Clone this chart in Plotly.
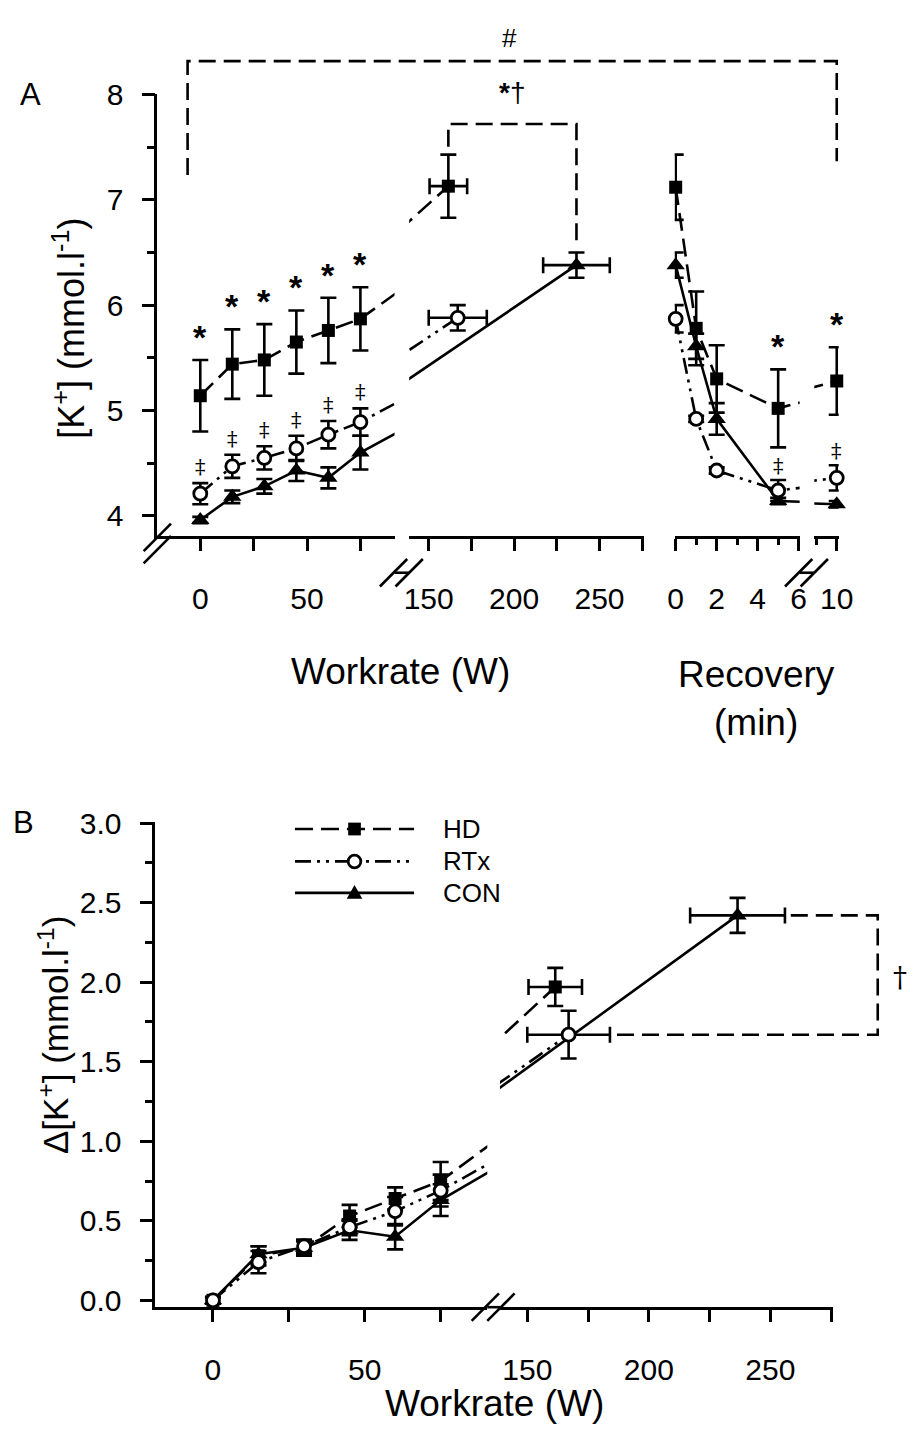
import plotly.graph_objects as go

W, H = 923, 1436
FONT = "Liberation Sans, Arial, Helvetica, sans-serif"
SERIF = "DejaVu Serif, Liberation Serif, Times New Roman, serif"

# ----------------------------- data -----------------------------
groups = ["HD", "RTx", "CON"]
workrate = [0, 15, 30, 45, 60, 75]            # W
recovery_min = [0, 1, 2, 5, 10]               # min

# Panel A : plasma [K+] (mmol/l)
hd_k = [5.14, 5.44, 5.48, 5.65, 5.76, 5.87]
hd_k_sd = [0.34, 0.33, 0.34, 0.30, 0.31, 0.30]
rtx_k = [4.21, 4.47, 4.55, 4.64, 4.77, 4.89]
rtx_k_sd = [0.10, 0.11, 0.11, 0.12, 0.13, 0.13]
con_k = [3.96, 4.18, 4.28, 4.43, 4.36, 4.60]
con_k_sd = [0.03, 0.06, 0.07, 0.10, 0.10, 0.16]

peak_workrate = [161.5, 167.0, 236.5]         # HD, RTx, CON
peak_workrate_sd = [11.0, 17.0, 19.5]
peak_k = [7.13, 5.88, 6.38]
peak_k_sd = [0.30, 0.12, 0.12]

hd_rec = [7.12, 5.78, 5.30, 5.02, 5.28]
hd_rec_sd = [0.31, 0.35, 0.32, 0.37, 0.32]
rtx_rec = [5.87, 4.92, 4.43, 4.24, 4.36]
rtx_rec_sd = [0.13, 0.03, 0.03, 0.10, 0.12]
con_rec = [6.38, 5.61, 4.92, 4.14, 4.11]
con_rec_sd = [0.12, 0.12, 0.15, 0.03, 0.03]

# Panel B : delta [K+] (mmol/l)
hd_dk = [0.0, 0.28, 0.33, 0.53, 0.64, 0.75]
hd_dk_sd = [0.02, 0.06, 0.05, 0.07, 0.07, 0.12]
rtx_dk = [0.0, 0.24, 0.34, 0.46, 0.56, 0.69]
rtx_dk_sd = [0.02, 0.07, 0.04, 0.05, 0.09, 0.10]
con_dk = [0.0, 0.29, 0.33, 0.44, 0.40, 0.63]
con_dk_sd = [0.02, 0.05, 0.04, 0.06, 0.08, 0.10]
peak_dk = [1.97, 1.67, 2.42]
peak_dk_sd = [0.12, 0.15, 0.11]

# significance symbols
hd_star_workrate = [0, 15, 30, 45, 60, 75]
rtx_ddag_workrate = [0, 15, 30, 45, 60, 75]
hd_star_recovery = [5, 10]
rtx_ddag_recovery = [5, 10]

SUB = {
    "HD": (hd_k, hd_k_sd, hd_rec, hd_rec_sd, hd_dk, hd_dk_sd),
    "RTx": (rtx_k, rtx_k_sd, rtx_rec, rtx_rec_sd, rtx_dk, rtx_dk_sd),
    "CON": (con_k, con_k_sd, con_rec, con_rec_sd, con_dk, con_dk_sd),
}

# ----------------------------- styles -----------------------------
LW = 2.6
STY = {
    "HD": dict(symbol="square", size=13, fill="black", lw=0, dash="18px,8px"),
    "RTx": dict(symbol="circle", size=13, fill="white", lw=2.8,
                dash="16px,6px,3px,6px,3px,6px"),
    "CON": dict(symbol="triangle-up", size=16, fill="black", lw=0, dash="solid"),
}


def px2x(p):
    return p / W


def py2y(p):
    return 1 - p / H


class Lin:
    """linear pixel mapping for one axis segment"""

    def __init__(self, p0, p1, vref, pref, scale, vertical=False):
        self.p0, self.p1, self.vref, self.pref, self.s = p0, p1, vref, pref, scale
        self.vert = vertical

    def v2p(self, v):
        return self.pref - (v - self.vref) * self.s if self.vert else self.pref + (v - self.vref) * self.s

    def p2v(self, p):
        return self.vref + (self.pref - p) / self.s if self.vert else self.vref + (p - self.pref) / self.s

    def rng(self):
        return [self.p2v(self.p0), self.p2v(self.p1)]

    def dom(self):
        if self.vert:
            return [py2y(self.p0), py2y(self.p1)]
        return [px2x(self.p0), px2x(self.p1)]


AXA = 567     # panel A x-axis line (px)
AXB = 1315    # panel B x-axis line (px)
xA1 = Lin(154, 397, 0, 198, 2.187)
xA2 = Lin(412, 653, 150, 432, 1.75)
xA3 = Lin(684, 812, 0, 685, 21.0)
xA4 = Lin(827, 852, 10, 850, 21.0)
yA1 = Lin(530, 79, 8, 80, 107.25, vertical=True)
yA2 = Lin(AXA, 530, 0, AXA - 0.5, 107.25, vertical=True)
xB1 = Lin(152, 492, 0, 211, 3.11)
xB2 = Lin(505, 846, 150, 533, 2.49)
yB = Lin(AXB, 821, 3, 822, 162.0, vertical=True)

fig = go.Figure()


def add_lines(xs, ys, g, pairs):
    for xa, ya in pairs:
        fig.add_trace(go.Scatter(
            x=xs, y=ys, mode="lines", xaxis=xa, yaxis=ya, hoverinfo="skip",
            line=dict(color="black", width=LW, dash=STY[g]["dash"])))


def add_markers(xs, ys, ey, g, xa, ya, ex=None):
    s = STY[g]
    kw = {}
    if ex is not None:
        kw["error_x"] = dict(type="data", array=ex, visible=True, color="black",
                             thickness=LW, width=8)
    fig.add_trace(go.Scatter(
        x=xs, y=ys, mode="markers", xaxis=xa, yaxis=ya, cliponaxis=False,
        marker=dict(symbol=s["symbol"], size=s["size"], color=s["fill"],
                    line=dict(color="black", width=s["lw"])),
        error_y=dict(type="data", array=ey, visible=True, color="black",
                     thickness=LW, width=8), **kw))


# lines first
for i, g in enumerate(groups):
    k, ksd, rec, recsd, dk, dksd = SUB[g]
    add_lines(workrate + [peak_workrate[i]], k + [peak_k[i]], g, [("x", "y"), ("x2", "y")])
    add_lines(recovery_min, rec, g, [("x3", "y"), ("x4", "y")])
    add_lines(workrate + [peak_workrate[i]], dk + [peak_dk[i]], g, [("x5", "y3"), ("x6", "y3")])

# markers
for g in ["HD", "CON", "RTx"]:
    j = groups.index(g)
    k, ksd, rec, recsd, dk, dksd = SUB[g]
    add_markers(workrate, k, ksd, g, "x", "y")
    add_markers([peak_workrate[j]], [peak_k[j]], [peak_k_sd[j]], g, "x2", "y",
                ex=[peak_workrate_sd[j]])
    add_markers(recovery_min[:4], rec[:4], recsd[:4], g, "x3", "y")
    add_markers(recovery_min[4:], rec[4:], recsd[4:], g, "x4", "y")
    add_markers(workrate, dk, dksd, g, "x5", "y3")
    add_markers([peak_workrate[j]], [peak_dk[j]], [peak_dk_sd[j]], g, "x6", "y3",
                ex=[peak_workrate_sd[j]])

# ----------------------------- axes -----------------------------
common = dict(showline=True, linecolor="black", linewidth=LW, ticks="outside",
              ticklen=12, tickwidth=LW, tickcolor="black", showgrid=False,
              zeroline=False, fixedrange=True, tickmode="array",
              tickfont=dict(family=FONT, size=30, color="black"))
xcommon = dict(common, ticklabelstandoff=22)
ycommon = dict(common, ticklen=13, ticklabelstandoff=12)


def minor(vals, ln=7):
    return dict(tickmode="array", tickvals=vals, ticks="outside", ticklen=ln,
                tickwidth=LW, tickcolor="black", showgrid=False)


def fmt1(v):
    return f"{v:.1f}"


fig.update_layout(
    xaxis=dict(xcommon, domain=xA1.dom(), range=xA1.rng(), anchor="y2",
               tickvals=[0, 50], ticktext=["0", "50"], minor=minor([25, 75], 12)),
    xaxis2=dict(xcommon, domain=xA2.dom(), range=xA2.rng(), anchor="y2",
                tickvals=[150, 200, 250], ticktext=["150", "200", "250"],
                minor=minor([175, 225, 275], 12)),
    xaxis3=dict(xcommon, domain=xA3.dom(), range=xA3.rng(), anchor="y2",
                tickvals=[0, 2, 4, 6], ticktext=["0", "2", "4", "6"],
                minor=minor([1, 3, 5], 6)),
    xaxis4=dict(xcommon, domain=xA4.dom(), range=xA4.rng(), anchor="y2",
                tickvals=[10], ticktext=["10"], minor=minor([9], 6)),
    yaxis=dict(ycommon, domain=yA1.dom(), range=yA1.rng(), anchor="x",
               tickvals=[4, 5, 6, 7, 8], ticktext=["4", "5", "6", "7", "8"],
               minor=minor([4.5, 5.5, 6.5, 7.5], 8)),
    yaxis2=dict(ycommon, domain=yA2.dom(), range=yA2.rng(), anchor="x",
                tickvals=[0], ticktext=["0"]),
    xaxis5=dict(xcommon, domain=xB1.dom(), range=xB1.rng(), anchor="y3",
                tickvals=[0, 50], ticktext=["0", "50"], minor=minor([25, 75], 12)),
    xaxis6=dict(xcommon, domain=xB2.dom(), range=xB2.rng(), anchor="y3",
                tickvals=[150, 200, 250], ticktext=["150", "200", "250"],
                minor=minor([175, 225, 275], 12)),
    yaxis3=dict(ycommon, domain=yB.dom(), range=yB.rng(), anchor="x5",
                tickvals=[0, 0.5, 1.0, 1.5, 2.0, 2.5, 3.0],
                ticktext=[fmt1(v) for v in [0, 0.5, 1.0, 1.5, 2.0, 2.5, 3.0]],
                minor=minor([0.25, 0.75, 1.25, 1.75, 2.25, 2.75], 8)),
)

shapes = []
annotations = []


def seg(x0, y0, x1, y1, dash="solid", w=LW):
    shapes.append(dict(type="line", xref="paper", yref="paper",
                       x0=px2x(x0), y0=py2y(y0), x1=px2x(x1), y1=py2y(y1),
                       line=dict(color="black", width=w, dash=dash)))


def poly(pts, dash="17px,8px"):
    path = "M " + " L ".join(f"{px2x(a):.5f},{py2y(b):.5f}" for a, b in pts)
    shapes.append(dict(type="path", xref="paper", yref="paper", path=path,
                       line=dict(color="black", width=LW, dash=dash)))


def text(x, y, t, size=29, family=FONT, xanchor="center", yanchor="middle", angle=0):
    annotations.append(dict(x=px2x(x), y=py2y(y), xref="paper", yref="paper", text=t,
                            showarrow=False, xanchor=xanchor, yanchor=yanchor,
                            textangle=angle,
                            font=dict(family=family, size=size, color="black")))


def breakmark(cx, cy, d=14):
    seg(cx - d, cy + d, cx + d, cy - d)


# axis lines across the breaks
seg(xA1.p1, AXA, xA2.p0, AXA)
seg(xA3.p1, AXA, xA4.p0, AXA)
seg(xB1.p1, AXB, xB2.p0, AXB)
# break marks
for cy in (531, 543.5):
    breakmark(154, cy)
for cx in (396, 412):
    breakmark(cx, AXA)
for cx in (811, 827):
    breakmark(cx, AXA)
for cx in (490, 506):
    breakmark(cx, AXB)

# significance brackets, panel A
poly([(185, 162), (185, 46), (xA4.v2p(10), 46), (xA4.v2p(10), 148)])
top = yA1.v2p(7.72)
poly([(xA2.v2p(peak_workrate[0]), yA1.v2p(peak_k[0] + peak_k_sd[0]) - 8),
      (xA2.v2p(peak_workrate[0]), top),
      (xA2.v2p(peak_workrate[2]), top),
      (xA2.v2p(peak_workrate[2]), yA1.v2p(peak_k[2] + peak_k_sd[2]) - 8)])
text(515, 22, "#", size=26)
text(517, 78, "<b>*</b>†", size=28)

# significance bracket, panel B
rx = 892
poly([(xB2.v2p(peak_workrate[2] + peak_workrate_sd[2]) + 6, yB.v2p(peak_dk[2])),
      (rx, yB.v2p(peak_dk[2])), (rx, yB.v2p(peak_dk[1])),
      (xB2.v2p(peak_workrate[1] + peak_workrate_sd[1]) + 5, yB.v2p(peak_dk[1]))])
text(915, 979, "†", size=28, family=SERIF)

STAR = dict(family=FONT, size=34, color="black")
DDAG = dict(family=SERIF, size=21, color="black")

# asterisks / double daggers
for w in hd_star_workrate:
    i = workrate.index(w)
    annotations.append(dict(x=w, y=hd_k[i] + hd_k_sd[i], xref="x", yref="y", text="<b>*</b>",
                            showarrow=False, yanchor="bottom", yshift=2, font=STAR))
for w in rtx_ddag_workrate:
    i = workrate.index(w)
    annotations.append(dict(x=w, y=rtx_k[i] + rtx_k_sd[i], xref="x", yref="y", text="‡",
                            showarrow=False, yanchor="bottom", yshift=2, font=DDAG))
for t in hd_star_recovery:
    i = recovery_min.index(t)
    annotations.append(dict(x=t, y=hd_rec[i] + hd_rec_sd[i], xref="x3" if t < 8 else "x4",
                            yref="y", text="<b>*</b>", showarrow=False, yanchor="bottom",
                            yshift=2, font=STAR))
for t in rtx_ddag_recovery:
    i = recovery_min.index(t)
    annotations.append(dict(x=t, y=rtx_rec[i] + rtx_rec_sd[i], xref="x3" if t < 8 else "x4",
                            yref="y", text="‡", showarrow=False, yanchor="bottom", yshift=0,
                            font=DDAG))

# panel labels and titles
text(24, 80, "A", size=31)
text(17, 821, "B", size=31)
text(64, 318, "[K<sup>+</sup>] (mmol.l<sup>-1</sup>)", size=36, angle=-90)
text(48, 1038, "Δ[K<sup>+</sup>] (mmol.l<sup>-1</sup>)", size=35, angle=-90)
text(403, 668, "Workrate (W)", size=37)
text(768, 695, "Recovery<br>(min)", size=37)
text(499, 1413, "Workrate (W)", size=37)

# legend (panel B)
for g, ly in zip(groups, [828, 861, 893]):
    seg(295, ly, 417, ly, dash=STY[g]["dash"])
    cx = 356
    if g == "HD":
        shapes.append(dict(type="rect", xref="paper", yref="paper",
                           x0=px2x(cx - 6.5), x1=px2x(cx + 6.5), y0=py2y(ly + 6.5), y1=py2y(ly - 6.5),
                           fillcolor="black", line=dict(width=0)))
    elif g == "RTx":
        shapes.append(dict(type="circle", xref="paper", yref="paper",
                           x0=px2x(cx - 6.5), x1=px2x(cx + 6.5), y0=py2y(ly + 6.5), y1=py2y(ly - 6.5),
                           fillcolor="white", line=dict(color="black", width=2.8)))
    else:
        p = (f"M {px2x(cx-8):.5f},{py2y(ly+6):.5f} L {px2x(cx+8):.5f},{py2y(ly+6):.5f} "
             f"L {px2x(cx):.5f},{py2y(ly-8):.5f} Z")
        shapes.append(dict(type="path", xref="paper", yref="paper", path=p,
                           fillcolor="black", line=dict(width=0)))
    text(445, ly, g, size=26, xanchor="left")

fig.update_layout(
    width=W, height=H, margin=dict(l=0, r=0, t=0, b=0),
    paper_bgcolor="white", plot_bgcolor="rgba(0,0,0,0)",
    showlegend=False, shapes=shapes, annotations=annotations,
    font=dict(family=FONT, color="black"),
)

fig.write_html("out.html")
